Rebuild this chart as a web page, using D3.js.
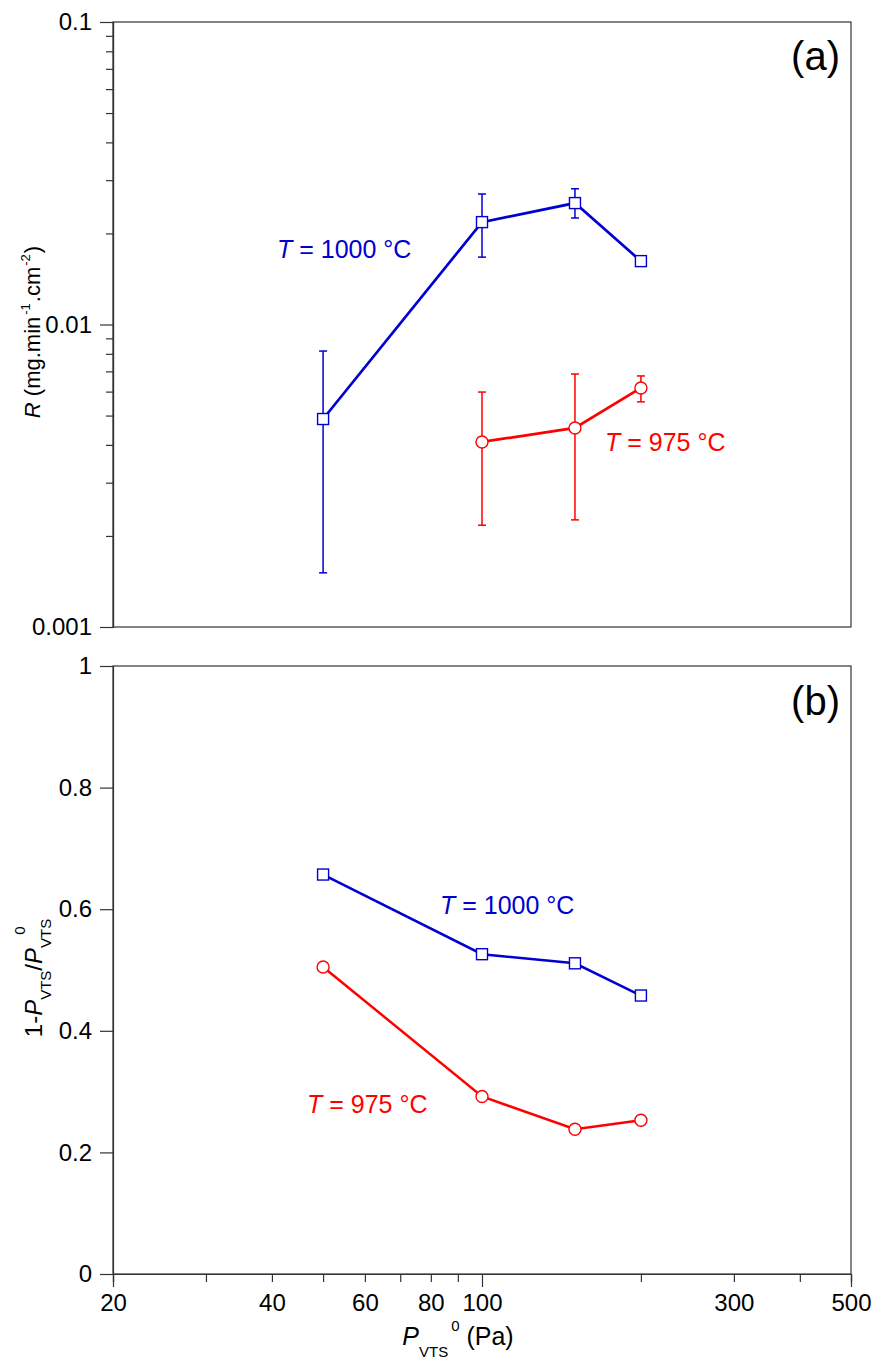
<!DOCTYPE html>
<html>
<head>
<meta charset="utf-8">
<script src="https://cdn.jsdelivr.net/npm/d3@7"></script>
<style>
  html, body { margin: 0; padding: 0; background: #fff; }
  svg { display: block; font-family: "Liberation Sans", Arial, sans-serif; }
</style>
</head>
<body>
<svg id="chart" width="878" height="1359"></svg>
<script>
// Partial pressure of VTS (Pa)
const pressure1000 = [50, 100, 150, 200];
const pressure975 = [100, 150, 200];

// (a) deposition rate R (mg.min-1.cm-2) with error bar bounds
const rate1000 = [0.00487, 0.0218, 0.0252, 0.0162];
const rate1000Lo = [0.00151, 0.0167, 0.0225, null];
const rate1000Hi = [0.00817, 0.0270, 0.0281, null];
const rate975 = [0.00409, 0.00455, 0.00617];
const rate975Lo = [0.00217, 0.00226, 0.00555];
const rate975Hi = [0.00598, 0.00686, 0.00676];

// (b) conversion 1 - P_VTS / P_VTS^0
const pressureB = [50, 100, 150, 200];
const conv1000 = [0.657, 0.526, 0.511, 0.458];
const conv975 = [0.505, 0.292, 0.238, 0.253];

// Axis ticks
const xMinorTicks = [30, 40, 50, 60, 70, 80, 90, 200, 300, 400];
const xMajorTicks = [100];
const xEdgeTicks = [20, 500];
const xTickLabels = [20, 40, 60, 80, 100, 300, 500];
const yaMajor = [0.001, 0.01, 0.1];
const yaMinor = [0.002, 0.003, 0.004, 0.005, 0.006, 0.007, 0.008, 0.009,
                 0.02, 0.03, 0.04, 0.05, 0.06, 0.07, 0.08, 0.09];
const ybTicks = [0, 0.2, 0.4, 0.6, 0.8, 1];

const BLUE = "#0000d0";
const RED = "#ff0000";
const AXIS = "#333";

const svg = d3.select("#chart");

const left = 113, right = 851;
const aTop = 22, aBottom = 627;
const bTop = 666, bBottom = 1274;

const x = d3.scaleLog().domain([20, 500]).range([left, right]);
const ya = d3.scaleLog().domain([0.001, 0.1]).range([aBottom, aTop]);
const yb = d3.scaleLinear().domain([0, 1]).range([bBottom, bTop]);

function styleAxis(g) {
  g.select(".domain").attr("stroke", AXIS).attr("stroke-width", 1.2);
  g.selectAll(".tick line").attr("stroke", AXIS).attr("stroke-width", 1.2);
  g.selectAll(".tick text")
    .attr("fill", "#000")
    .style("font-size", "24px")
    .style("font-family", "'Liberation Sans', Arial, sans-serif");
}

// ---------- frames ----------
function frame(top, bottom) {
  svg.append("rect")
    .attr("x", left).attr("y", top)
    .attr("width", right - left).attr("height", bottom - top)
    .attr("fill", "none").attr("stroke", AXIS).attr("stroke-width", 1.2);
}
frame(aTop, aBottom);
frame(bTop, bBottom);

// ---------- panel (a) y axis ----------
svg.append("g").attr("transform", `translate(${left},0)`)
  .call(d3.axisLeft(ya).tickValues(yaMinor).tickSize(7).tickFormat(""))
  .call(styleAxis);
svg.append("g").attr("transform", `translate(${left},0)`)
  .call(d3.axisLeft(ya).tickValues(yaMajor).tickSize(13).tickPadding(8)
    .tickFormat(d => d === 0.001 ? "0.001" : d === 0.01 ? "0.01" : "0.1"))
  .call(styleAxis);

// ---------- panel (b) y axis ----------
svg.append("g").attr("transform", `translate(${left},0)`)
  .call(d3.axisLeft(yb).tickValues(ybTicks).tickSize(13).tickPadding(8)
    .tickFormat(d => d === 0 ? "0" : d === 1 ? "1" : d3.format(".1f")(d)))
  .call(styleAxis);

// ---------- shared x axis ----------
svg.append("g").attr("transform", `translate(0,${bBottom})`)
  .call(d3.axisBottom(x).tickValues(xMinorTicks.concat(xEdgeTicks)).tickSize(8).tickFormat(""))
  .call(styleAxis);
svg.append("g").attr("transform", `translate(0,${bBottom})`)
  .call(d3.axisBottom(x).tickValues(xMajorTicks).tickSize(13).tickFormat(""))
  .call(styleAxis);
svg.append("g").attr("transform", `translate(0,${bBottom})`)
  .call(d3.axisBottom(x).tickValues(xTickLabels).tickSize(0).tickPadding(20)
    .tickFormat(d => String(d)))
  .call(g => g.select(".domain").remove())
  .call(styleAxis);

// ---------- helpers ----------
function errorBars(xs, lo, hi, color) {
  const g = svg.append("g").attr("stroke", color).attr("stroke-width", 1.5).attr("fill", "none");
  xs.forEach((p, i) => {
    if (lo[i] == null || hi[i] == null) return;
    const cx = x(p), y1 = ya(lo[i]), y2 = ya(hi[i]);
    g.append("line").attr("x1", cx).attr("x2", cx).attr("y1", y1).attr("y2", y2);
    g.append("line").attr("x1", cx - 4).attr("x2", cx + 4).attr("y1", y1).attr("y2", y1);
    g.append("line").attr("x1", cx - 4).attr("x2", cx + 4).attr("y1", y2).attr("y2", y2);
  });
}

function series(xs, ys, yScale, color, shape, width) {
  const pts = xs.map((p, i) => [x(p), yScale(ys[i])]);
  svg.append("path")
    .attr("d", d3.line()(pts))
    .attr("fill", "none").attr("stroke", color).attr("stroke-width", width);
  const g = svg.append("g");
  pts.forEach(([cx, cy]) => {
    if (shape === "square") {
      g.append("rect")
        .attr("x", cx - 5.5).attr("y", cy - 5.5).attr("width", 11).attr("height", 11)
        .attr("fill", "#fff").attr("stroke", color).attr("stroke-width", 1.4);
    } else {
      g.append("circle")
        .attr("cx", cx).attr("cy", cy).attr("r", 6)
        .attr("fill", "#fff").attr("stroke", color).attr("stroke-width", 1.4);
    }
  });
}

function tempLabel(tx, ty, value, color, anchor) {
  const t = svg.append("text")
    .attr("x", tx).attr("y", ty).attr("fill", color)
    .attr("text-anchor", anchor || "start")
    .style("font-size", "25px");
  t.append("tspan").style("font-style", "italic").text("T");
  t.append("tspan").text(` = ${value} °C`);
}

// ---------- panel (a) data ----------
errorBars(pressure1000, rate1000Lo, rate1000Hi, BLUE);
errorBars(pressure975, rate975Lo, rate975Hi, RED);
series(pressure1000, rate1000, ya, BLUE, "square", 2.7);
series(pressure975, rate975, ya, RED, "circle", 2.7);
tempLabel(277, 258, 1000, BLUE);
tempLabel(605, 451, 975, RED);

// ---------- panel (b) data ----------
series(pressureB, conv1000, yb, BLUE, "square", 2.5);
series(pressureB, conv975, yb, RED, "circle", 2.5);
tempLabel(440, 914, 1000, BLUE);
tempLabel(307, 1113, 975, RED);

// ---------- panel tags ----------
svg.append("text").attr("x", 840).attr("y", 70).attr("text-anchor", "end")
  .style("font-size", "40px").attr("fill", "#000").text("(a)");
svg.append("text").attr("x", 840).attr("y", 715).attr("text-anchor", "end")
  .style("font-size", "40px").attr("fill", "#000").text("(b)");

// ---------- axis titles ----------
// (a) R (mg.min-1.cm-2)
{
  const t = svg.append("text")
    .attr("transform", `translate(40,332) rotate(-90)`)
    .attr("text-anchor", "middle").attr("fill", "#000")
    .style("font-size", "22px");
  t.append("tspan").style("font-style", "italic").text("R");
  t.append("tspan").text(" (mg.min");
  t.append("tspan").attr("dy", -10).attr("dx", 2).style("font-size", "13px").text("-1");
  t.append("tspan").attr("dy", 10).attr("dx", 1).text(".cm");
  t.append("tspan").attr("dy", -10).attr("dx", 1).style("font-size", "13px").text("-2");
  t.append("tspan").attr("dy", 10).attr("dx", 1).text(")");
}

// (b) 1-P_VTS/P_VTS^0
{
  const t = svg.append("text")
    .attr("transform", `translate(42,978) rotate(-90)`)
    .attr("text-anchor", "middle").attr("fill", "#000")
    .style("font-size", "24px");
  t.append("tspan").text("1-");
  t.append("tspan").style("font-style", "italic").text("P");
  t.append("tspan").attr("dy", 9).style("font-size", "15px").text("VTS");
  t.append("tspan").attr("dy", -9).text("/");
  t.append("tspan").style("font-style", "italic").text("P");
  t.append("tspan").attr("dy", 9).style("font-size", "15px").text("VTS");
  t.append("tspan").attr("dy", -26).attr("dx", -16).style("font-size", "15px").text("0");
}

// x title: P_VTS^0 (Pa)
{
  const t = svg.append("text")
    .attr("x", 458).attr("y", 1345)
    .attr("text-anchor", "middle").attr("fill", "#000")
    .style("font-size", "25px");
  t.append("tspan").style("font-style", "italic").text("P");
  t.append("tspan").attr("dy", 12).style("font-size", "15px").text("VTS");
  t.append("tspan").attr("dy", -26).attr("dx", 3).style("font-size", "15px").text("0");
  t.append("tspan").attr("dy", 14).text(" (Pa)");
}
</script>
</body>
</html>
